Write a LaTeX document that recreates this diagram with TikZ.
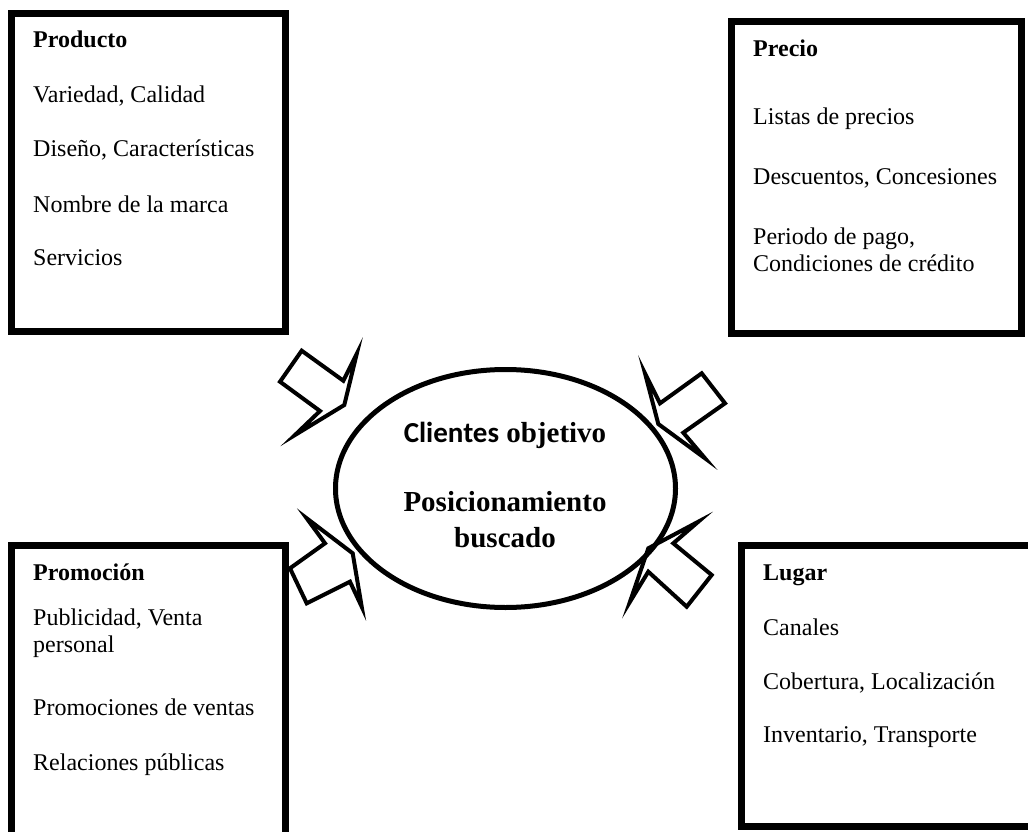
\documentclass[tikz,border=0pt]{standalone}
\usepackage{fontspec}
\setmainfont{Liberation Serif}
\newfontfamily\carlito{Carlito}
\usetikzlibrary{shapes.geometric}
\begin{document}
\begin{tikzpicture}[x=1pt,y=-1pt,
  boxframe/.style={draw=black,line width=7pt,inner sep=0pt,outer sep=0pt},
  item/.style={anchor=base west,inner sep=0pt,font=\fontsize{24}{28}\selectfont},
  headitem/.style={anchor=base west,inner sep=0pt,font=\fontsize{24}{28}\selectfont\bfseries},
  blockarrow/.style={draw=black,line width=4pt,line join=miter,miter limit=12},
  centretext/.style={anchor=base,inner sep=0pt,font=\fontsize{29}{34}\selectfont\bfseries}]
\useasboundingbox (0,0) rectangle (1028,832);
\clip (0,0) rectangle (1028,832);

% boxes
\node (prodbox) [boxframe, minimum width=273.5pt, minimum height=317.5pt] at (148.25,172.25) {};
\node (precbox) [boxframe, minimum width=290pt, minimum height=311.5pt] at (876.5,177.25) {};
\node (promobox) [boxframe, minimum width=273.5pt, minimum height=320pt] at (148.25,705) {};
\node (lugarbox) [boxframe, minimum width=320pt, minimum height=281pt] at (901.5,685.5) {};

% centre ellipse
\node (core) [draw=black, ellipse, line width=5pt, minimum width=340pt, minimum height=238pt, inner sep=0pt] at (505.5,488.5) {};
\node (c1) [centretext] at (505,442) {{\carlito Clientes} {\rmfamily objetivo}};
\node (c2) [centretext] at (505,511) {Posicionamiento};
\node (c3) [centretext] at (505,547) {buscado};

% Producto
\node (p0) [headitem] at (33,48) {Producto};
\node (p1) [item] at (33,103) {Variedad, Calidad};
\node (p2) [item] at (33,157) {Diseño, Características};
\node (p3) [item] at (33,212) {Nombre de la marca};
\node (p4) [item] at (33,265) {Servicios};

% Precio
\node (r0) [headitem] at (753,57) {Precio};
\node (r1) [item] at (753,125) {Listas de precios};
\node (r2) [item] at (753,184) {Descuentos, Concesiones};
\node (r3) [item] at (753,244) {Periodo de pago,};
\node (r4) [item] at (753,271) {Condiciones de crédito};

% Promocion
\node (m0) [headitem] at (33,580) {Promoción};
\node (m1) [item] at (33,625) {Publicidad, Venta};
\node (m2) [item] at (33,652) {personal};
\node (m3) [item] at (33,715) {Promociones de ventas};
\node (m4) [item] at (33,770) {Relaciones públicas};

% Lugar
\node (l0) [headitem] at (763,580) {Lugar};
\node (l1) [item] at (763,635) {Canales};
\node (l2) [item] at (763,689) {Cobertura, Localización};
\node (l3) [item] at (763,742) {Inventario, Transporte};

% block arrows
\draw[blockarrow] (280.0,381.7) -- (301.7,350.7) -- (343.3,380.7) -- (356.7,354.0) -- (344.3,405.0) -- (295.0,435.0) -- (320.0,411.0) -- cycle;
\draw[blockarrow] (645,373.3) -- (660,403.3) -- (701.7,373.3) -- (725,403.3) -- (683.3,432.7) -- (705,458.3) -- (658.3,424) -- cycle;
\draw[blockarrow] (306.7,518.3) -- (325,543.3) -- (290,568.3) -- (306.7,603.3) -- (350,581.7) -- (361.7,606.7) -- (352.7,553.3) -- cycle;
\draw[blockarrow] (698.3,521.7) -- (673.3,543.3) -- (711.7,575) -- (686.7,606.7) -- (648.3,571.7) -- (630,601.7) -- (648.3,548.3) -- cycle;
\end{tikzpicture}
\end{document}
